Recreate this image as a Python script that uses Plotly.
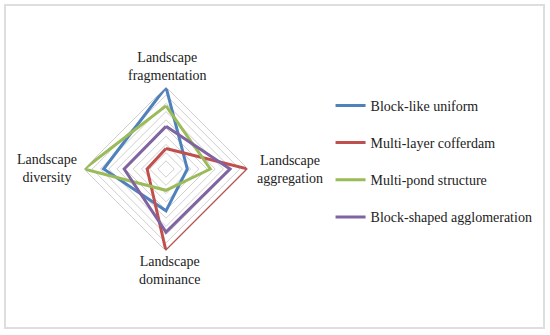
import plotly.graph_objects as go

categories = ["Landscape fragmentation", "Landscape aggregation", "Landscape dominance", "Landscape diversity"]
series_names = ["Block-like uniform", "Multi-layer cofferdam", "Multi-pond structure", "Block-shaped agglomeration"]
block_like_uniform = [1.00, 0.26, 0.51, 0.76]
multi_layer_cofferdam = [0.25, 1.00, 1.00, 0.23]
multi_pond_structure = [0.77, 0.54, 0.26, 1.00]
block_shaped_agglomeration = [0.52, 0.78, 0.77, 0.51]
colors = ["#4F81BD", "#C0504D", "#9BBB59", "#8064A2"]
grid_ticks = [0.1, 0.2, 0.3, 0.4, 0.5, 0.6, 0.7, 0.8, 0.9, 1.0]

series = [block_like_uniform, multi_layer_cofferdam, multi_pond_structure, block_shaped_agglomeration]
SERIF = "Liberation Serif, Times New Roman, DejaVu Serif, serif"

fig = go.Figure()
for name, vals, col in zip(series_names, series, colors):
    fig.add_trace(go.Scatterpolar(
        r=vals + vals[:1],
        theta=categories + categories[:1],
        mode="lines",
        name=name,
        line=dict(color=col, width=3),
        legendgroup=name,
    ))

W, H = 550, 335
cx, cy, R = 166, 169, 82

fig.update_layout(
    width=W, height=H,
    margin=dict(l=0, r=0, t=0, b=0),
    paper_bgcolor="white",
    font=dict(family=SERIF, size=14, color="#222"),
    polar=dict(
        domain=dict(x=[(cx - R) / W, (cx + R) / W], y=[1 - (cy + R) / H, 1 - (cy - R) / H]),
        gridshape="linear",
        bgcolor="white",
        radialaxis=dict(range=[0, 1], tickvals=grid_ticks, showticklabels=False,
                        showline=False, ticks="", gridcolor="#cfcfcf", gridwidth=1),
        angularaxis=dict(rotation=90, direction="clockwise", showticklabels=False,
                         showgrid=False, ticks="", linecolor="#cfcfcf", linewidth=1),
    ),
    legend=dict(x=0.601, y=0.732, xanchor="left", yanchor="top",
                font=dict(size=14, family=SERIF, color="#222"),
                tracegroupgap=16, bgcolor="rgba(0,0,0,0)"),
)

# axis labels
label_pos = [(167, 66), (290, 169), (169, 270), (47, 168)]
for cat, (lx, ly) in zip(categories, label_pos):
    fig.add_annotation(x=lx / W, y=1 - ly / H, xref="paper", yref="paper",
                       text=cat.replace(" ", "<br>"), showarrow=False,
                       xanchor="center", yanchor="middle", align="center",
                       font=dict(size=14, family=SERIF, color="#222"))

fig.add_shape(type="rect", xref="paper", yref="paper",
              x0=5 / W, x1=544 / W, y0=1 - 328 / H, y1=1 - 5 / H,
              line=dict(color="#dedede", width=2))

fig.write_html("out.html", config={"displayModeBar": False},
               post_script="document.body.style.margin='0';")
